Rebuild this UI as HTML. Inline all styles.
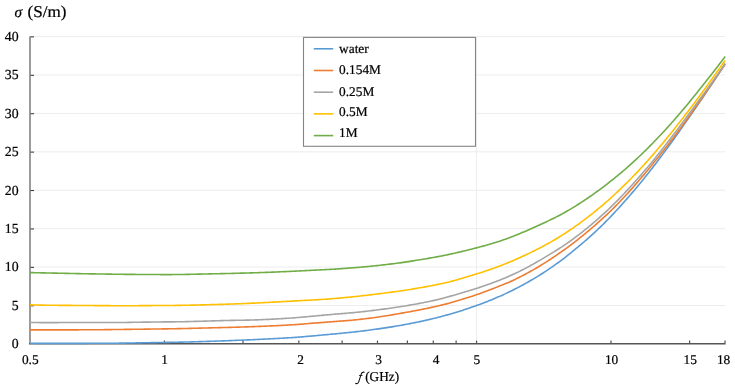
<!DOCTYPE html>
<html><head><meta charset="utf-8"><style>
html,body{margin:0;padding:0;background:#fff;width:735px;height:388px;overflow:hidden}
svg{display:block;will-change:transform}
text{text-rendering:geometricPrecision;stroke:#000;stroke-width:0.22px}
.t{font-family:"Liberation Serif",serif;font-size:13.33px;fill:#000}
.ti{font-family:"Liberation Serif",serif;font-size:16.5px;fill:#000}
.ty{font-family:"Liberation Serif",serif;font-size:13.8px;fill:#000}
.tx{font-family:"Liberation Serif",serif;font-size:13.6px;fill:#000}
</style></head><body>
<svg width="735" height="388" viewBox="0 0 735 388">
<line x1="31" y1="305.48" x2="725.3" y2="305.48" stroke="#EDEDED" stroke-width="1"/>
<line x1="31" y1="267.07" x2="725.3" y2="267.07" stroke="#EDEDED" stroke-width="1"/>
<line x1="31" y1="228.65" x2="725.3" y2="228.65" stroke="#EDEDED" stroke-width="1"/>
<line x1="31" y1="190.24" x2="725.3" y2="190.24" stroke="#EDEDED" stroke-width="1"/>
<line x1="31" y1="151.82" x2="725.3" y2="151.82" stroke="#EDEDED" stroke-width="1"/>
<line x1="31" y1="113.41" x2="725.3" y2="113.41" stroke="#EDEDED" stroke-width="1"/>
<line x1="31" y1="75.00" x2="725.3" y2="75.00" stroke="#EDEDED" stroke-width="1"/>
<line x1="31" y1="36.58" x2="725.3" y2="36.58" stroke="#EDEDED" stroke-width="1"/>
<line x1="476.56" y1="36.58" x2="476.56" y2="343" stroke="#EDEDED" stroke-width="1"/>
<line x1="30" y1="36.28" x2="30" y2="344.2" stroke="#8A8A8A" stroke-width="1.7"/>
<line x1="30.5" y1="305.78" x2="34" y2="305.78" stroke="#3A3A3A" stroke-width="1.05"/>
<line x1="30.5" y1="267.37" x2="34" y2="267.37" stroke="#3A3A3A" stroke-width="1.05"/>
<line x1="30.5" y1="228.95" x2="34" y2="228.95" stroke="#3A3A3A" stroke-width="1.05"/>
<line x1="30.5" y1="190.54" x2="34" y2="190.54" stroke="#3A3A3A" stroke-width="1.05"/>
<line x1="30.5" y1="152.12" x2="34" y2="152.12" stroke="#3A3A3A" stroke-width="1.05"/>
<line x1="30.5" y1="113.71" x2="34" y2="113.71" stroke="#3A3A3A" stroke-width="1.05"/>
<line x1="30.5" y1="75.30" x2="34" y2="75.30" stroke="#3A3A3A" stroke-width="1.05"/>
<line x1="30.5" y1="36.88" x2="34" y2="36.88" stroke="#3A3A3A" stroke-width="1.05"/>
<line x1="29.2" y1="343.7" x2="725.60" y2="343.7" stroke="#555" stroke-width="1.6"/>
<line x1="164.40" y1="343" x2="164.40" y2="340.6" stroke="#505050" stroke-width="1.2"/>
<line x1="243.04" y1="343" x2="243.04" y2="340.6" stroke="#505050" stroke-width="1.2"/>
<line x1="298.84" y1="343" x2="298.84" y2="340.6" stroke="#505050" stroke-width="1.2"/>
<line x1="342.12" y1="343" x2="342.12" y2="340.6" stroke="#505050" stroke-width="1.2"/>
<line x1="377.48" y1="343" x2="377.48" y2="340.6" stroke="#505050" stroke-width="1.2"/>
<line x1="407.38" y1="343" x2="407.38" y2="340.6" stroke="#505050" stroke-width="1.2"/>
<line x1="433.28" y1="343" x2="433.28" y2="340.6" stroke="#505050" stroke-width="1.2"/>
<line x1="456.12" y1="343" x2="456.12" y2="340.6" stroke="#505050" stroke-width="1.2"/>
<line x1="476.56" y1="343" x2="476.56" y2="340.6" stroke="#505050" stroke-width="1.2"/>
<line x1="611.00" y1="343" x2="611.00" y2="340.6" stroke="#505050" stroke-width="1.2"/>
<line x1="689.64" y1="343" x2="689.64" y2="340.6" stroke="#505050" stroke-width="1.2"/>
<line x1="725.00" y1="343" x2="725.00" y2="340.6" stroke="#505050" stroke-width="1.2"/>
<path d="M30.00,343.28 L31.66,343.29 L33.32,343.31 L34.98,343.33 L36.64,343.34 L38.30,343.36 L39.96,343.37 L41.61,343.38 L43.27,343.39 L44.93,343.40 L46.59,343.41 L48.25,343.42 L49.91,343.42 L51.57,343.42 L53.23,343.42 L54.89,343.42 L56.55,343.42 L58.21,343.41 L59.87,343.41 L61.52,343.40 L63.18,343.40 L64.84,343.39 L66.50,343.38 L68.16,343.38 L69.82,343.37 L71.48,343.37 L73.14,343.37 L74.80,343.36 L76.46,343.36 L78.12,343.35 L79.78,343.35 L81.43,343.35 L83.09,343.34 L84.75,343.34 L86.41,343.33 L88.07,343.33 L89.73,343.32 L91.39,343.32 L93.05,343.31 L94.71,343.30 L96.37,343.30 L98.03,343.29 L99.69,343.28 L101.35,343.28 L103.00,343.27 L104.66,343.26 L106.32,343.25 L107.98,343.25 L109.64,343.24 L111.30,343.23 L112.96,343.22 L114.62,343.21 L116.28,343.19 L117.94,343.18 L119.60,343.16 L121.26,343.14 L122.91,343.12 L124.57,343.10 L126.23,343.07 L127.89,343.05 L129.55,343.02 L131.21,343.00 L132.87,342.97 L134.53,342.95 L136.19,342.92 L137.85,342.89 L139.51,342.87 L141.17,342.84 L142.82,342.81 L144.48,342.79 L146.14,342.76 L147.80,342.73 L149.46,342.70 L151.12,342.67 L152.78,342.65 L154.44,342.62 L156.10,342.59 L157.76,342.56 L159.42,342.53 L161.08,342.50 L162.74,342.47 L164.39,342.44 L166.05,342.41 L167.71,342.38 L169.37,342.35 L171.03,342.32 L172.69,342.29 L174.35,342.26 L176.01,342.23 L177.67,342.20 L179.33,342.16 L180.99,342.13 L182.65,342.09 L184.30,342.06 L185.96,342.02 L187.62,341.98 L189.28,341.94 L190.94,341.89 L192.60,341.85 L194.26,341.80 L195.92,341.76 L197.58,341.71 L199.24,341.66 L200.90,341.61 L202.56,341.56 L204.21,341.51 L205.87,341.46 L207.53,341.41 L209.19,341.35 L210.85,341.30 L212.51,341.25 L214.17,341.19 L215.83,341.13 L217.49,341.07 L219.15,341.02 L220.81,340.96 L222.47,340.90 L224.13,340.83 L225.78,340.77 L227.44,340.71 L229.10,340.64 L230.76,340.58 L232.42,340.51 L234.08,340.45 L235.74,340.38 L237.40,340.31 L239.06,340.24 L240.72,340.18 L242.38,340.11 L244.04,340.04 L245.69,339.97 L247.35,339.90 L249.01,339.83 L250.67,339.75 L252.33,339.68 L253.99,339.60 L255.65,339.53 L257.31,339.45 L258.97,339.38 L260.63,339.30 L262.29,339.22 L263.95,339.14 L265.60,339.06 L267.26,338.98 L268.92,338.90 L270.58,338.82 L272.24,338.74 L273.90,338.65 L275.56,338.57 L277.22,338.48 L278.88,338.40 L280.54,338.31 L282.20,338.22 L283.86,338.12 L285.52,338.02 L287.17,337.92 L288.83,337.82 L290.49,337.71 L292.15,337.60 L293.81,337.48 L295.47,337.36 L297.13,337.24 L298.79,337.11 L300.45,336.98 L302.11,336.84 L303.77,336.70 L305.43,336.56 L307.08,336.42 L308.74,336.28 L310.40,336.13 L312.06,335.98 L313.72,335.83 L315.38,335.68 L317.04,335.52 L318.70,335.37 L320.36,335.21 L322.02,335.06 L323.68,334.90 L325.34,334.75 L326.99,334.59 L328.65,334.44 L330.31,334.28 L331.97,334.13 L333.63,333.98 L335.29,333.83 L336.95,333.68 L338.61,333.53 L340.27,333.37 L341.93,333.22 L343.59,333.06 L345.25,332.90 L346.91,332.73 L348.56,332.56 L350.22,332.39 L351.88,332.21 L353.54,332.03 L355.20,331.84 L356.86,331.65 L358.52,331.46 L360.18,331.26 L361.84,331.06 L363.50,330.86 L365.16,330.65 L366.82,330.44 L368.47,330.23 L370.13,330.01 L371.79,329.79 L373.45,329.56 L375.11,329.33 L376.77,329.10 L378.43,328.86 L380.09,328.62 L381.75,328.38 L383.41,328.13 L385.07,327.88 L386.73,327.63 L388.38,327.38 L390.04,327.12 L391.70,326.85 L393.36,326.59 L395.02,326.31 L396.68,326.04 L398.34,325.75 L400.00,325.47 L401.66,325.17 L403.32,324.88 L404.98,324.57 L406.64,324.27 L408.29,323.95 L409.95,323.63 L411.61,323.31 L413.27,322.98 L414.93,322.65 L416.59,322.31 L418.25,321.96 L419.91,321.61 L421.57,321.25 L423.23,320.89 L424.89,320.52 L426.55,320.14 L428.21,319.76 L429.86,319.37 L431.52,318.98 L433.18,318.58 L434.84,318.17 L436.50,317.75 L438.16,317.33 L439.82,316.90 L441.48,316.47 L443.14,316.03 L444.80,315.58 L446.46,315.13 L448.12,314.66 L449.77,314.19 L451.43,313.71 L453.09,313.23 L454.75,312.73 L456.41,312.23 L458.07,311.72 L459.73,311.20 L461.39,310.67 L463.05,310.14 L464.71,309.60 L466.37,309.05 L468.03,308.49 L469.68,307.93 L471.34,307.36 L473.00,306.78 L474.66,306.20 L476.32,305.61 L477.98,305.01 L479.64,304.40 L481.30,303.79 L482.96,303.16 L484.62,302.53 L486.28,301.89 L487.94,301.23 L489.60,300.57 L491.25,299.90 L492.91,299.22 L494.57,298.53 L496.23,297.82 L497.89,297.11 L499.55,296.38 L501.21,295.65 L502.87,294.90 L504.53,294.14 L506.19,293.37 L507.85,292.59 L509.51,291.80 L511.16,290.99 L512.82,290.17 L514.48,289.34 L516.14,288.49 L517.80,287.63 L519.46,286.76 L521.12,285.88 L522.78,284.98 L524.44,284.07 L526.10,283.15 L527.76,282.22 L529.42,281.27 L531.07,280.31 L532.73,279.34 L534.39,278.35 L536.05,277.35 L537.71,276.33 L539.37,275.31 L541.03,274.26 L542.69,273.21 L544.35,272.14 L546.01,271.05 L547.67,269.95 L549.33,268.83 L550.99,267.70 L552.64,266.56 L554.30,265.39 L555.96,264.21 L557.62,263.02 L559.28,261.80 L560.94,260.57 L562.60,259.31 L564.26,258.04 L565.92,256.76 L567.58,255.45 L569.24,254.13 L570.90,252.80 L572.55,251.46 L574.21,250.10 L575.87,248.74 L577.53,247.36 L579.19,245.98 L580.85,244.58 L582.51,243.17 L584.17,241.74 L585.83,240.30 L587.49,238.84 L589.15,237.37 L590.81,235.88 L592.46,234.38 L594.12,232.86 L595.78,231.32 L597.44,229.77 L599.10,228.19 L600.76,226.59 L602.42,224.98 L604.08,223.34 L605.74,221.69 L607.40,220.01 L609.06,218.31 L610.72,216.59 L612.38,214.85 L614.03,213.09 L615.69,211.31 L617.35,209.51 L619.01,207.70 L620.67,205.86 L622.33,204.01 L623.99,202.15 L625.65,200.27 L627.31,198.37 L628.97,196.47 L630.63,194.54 L632.29,192.61 L633.94,190.66 L635.60,188.69 L637.26,186.72 L638.92,184.72 L640.58,182.72 L642.24,180.70 L643.90,178.66 L645.56,176.60 L647.22,174.53 L648.88,172.45 L650.54,170.34 L652.20,168.22 L653.85,166.08 L655.51,163.92 L657.17,161.74 L658.83,159.55 L660.49,157.34 L662.15,155.12 L663.81,152.88 L665.47,150.62 L667.13,148.36 L668.79,146.08 L670.45,143.79 L672.11,141.49 L673.77,139.19 L675.42,136.87 L677.08,134.54 L678.74,132.21 L680.40,129.86 L682.06,127.51 L683.72,125.15 L685.38,122.78 L687.04,120.40 L688.70,118.02 L690.36,115.62 L692.02,113.22 L693.68,110.81 L695.33,108.40 L696.99,105.98 L698.65,103.56 L700.31,101.13 L701.97,98.70 L703.63,96.26 L705.29,93.81 L706.95,91.36 L708.61,88.90 L710.27,86.43 L711.93,83.95 L713.59,81.46 L715.24,78.97 L716.90,76.48 L718.56,73.98 L720.22,71.48 L721.88,68.97 L723.54,66.46 L725.20,63.95" fill="none" stroke="#5B9BD5" stroke-width="1.6" stroke-linejoin="round" stroke-linecap="butt"/>
<path d="M30.00,329.90 L31.66,329.90 L33.32,329.90 L34.98,329.90 L36.64,329.90 L38.30,329.89 L39.96,329.89 L41.61,329.89 L43.27,329.89 L44.93,329.89 L46.59,329.88 L48.25,329.88 L49.91,329.88 L51.57,329.88 L53.23,329.87 L54.89,329.87 L56.55,329.87 L58.21,329.87 L59.87,329.87 L61.52,329.87 L63.18,329.87 L64.84,329.86 L66.50,329.86 L68.16,329.86 L69.82,329.86 L71.48,329.85 L73.14,329.85 L74.80,329.84 L76.46,329.84 L78.12,329.83 L79.78,329.82 L81.43,329.82 L83.09,329.81 L84.75,329.80 L86.41,329.79 L88.07,329.78 L89.73,329.77 L91.39,329.76 L93.05,329.75 L94.71,329.74 L96.37,329.73 L98.03,329.72 L99.69,329.70 L101.35,329.69 L103.00,329.68 L104.66,329.66 L106.32,329.64 L107.98,329.63 L109.64,329.61 L111.30,329.59 L112.96,329.57 L114.62,329.55 L116.28,329.53 L117.94,329.51 L119.60,329.48 L121.26,329.46 L122.91,329.44 L124.57,329.42 L126.23,329.39 L127.89,329.37 L129.55,329.35 L131.21,329.33 L132.87,329.31 L134.53,329.29 L136.19,329.27 L137.85,329.25 L139.51,329.23 L141.17,329.21 L142.82,329.18 L144.48,329.16 L146.14,329.14 L147.80,329.12 L149.46,329.10 L151.12,329.07 L152.78,329.05 L154.44,329.03 L156.10,329.01 L157.76,328.98 L159.42,328.96 L161.08,328.94 L162.74,328.91 L164.39,328.89 L166.05,328.86 L167.71,328.84 L169.37,328.81 L171.03,328.78 L172.69,328.76 L174.35,328.73 L176.01,328.69 L177.67,328.66 L179.33,328.63 L180.99,328.59 L182.65,328.55 L184.30,328.51 L185.96,328.47 L187.62,328.43 L189.28,328.39 L190.94,328.35 L192.60,328.31 L194.26,328.27 L195.92,328.23 L197.58,328.19 L199.24,328.15 L200.90,328.11 L202.56,328.07 L204.21,328.03 L205.87,327.99 L207.53,327.95 L209.19,327.90 L210.85,327.86 L212.51,327.82 L214.17,327.78 L215.83,327.73 L217.49,327.69 L219.15,327.65 L220.81,327.60 L222.47,327.56 L224.13,327.51 L225.78,327.47 L227.44,327.43 L229.10,327.38 L230.76,327.34 L232.42,327.29 L234.08,327.25 L235.74,327.20 L237.40,327.16 L239.06,327.11 L240.72,327.06 L242.38,327.01 L244.04,326.96 L245.69,326.90 L247.35,326.84 L249.01,326.78 L250.67,326.72 L252.33,326.66 L253.99,326.60 L255.65,326.54 L257.31,326.47 L258.97,326.41 L260.63,326.34 L262.29,326.27 L263.95,326.20 L265.60,326.14 L267.26,326.07 L268.92,326.00 L270.58,325.92 L272.24,325.85 L273.90,325.78 L275.56,325.70 L277.22,325.63 L278.88,325.55 L280.54,325.47 L282.20,325.38 L283.86,325.30 L285.52,325.21 L287.17,325.11 L288.83,325.01 L290.49,324.91 L292.15,324.80 L293.81,324.69 L295.47,324.58 L297.13,324.46 L298.79,324.34 L300.45,324.21 L302.11,324.08 L303.77,323.95 L305.43,323.82 L307.08,323.69 L308.74,323.56 L310.40,323.42 L312.06,323.29 L313.72,323.16 L315.38,323.02 L317.04,322.89 L318.70,322.76 L320.36,322.63 L322.02,322.50 L323.68,322.37 L325.34,322.24 L326.99,322.12 L328.65,321.99 L330.31,321.87 L331.97,321.76 L333.63,321.64 L335.29,321.52 L336.95,321.41 L338.61,321.29 L340.27,321.17 L341.93,321.05 L343.59,320.92 L345.25,320.79 L346.91,320.65 L348.56,320.50 L350.22,320.35 L351.88,320.19 L353.54,320.03 L355.20,319.87 L356.86,319.69 L358.52,319.52 L360.18,319.34 L361.84,319.15 L363.50,318.96 L365.16,318.77 L366.82,318.57 L368.47,318.37 L370.13,318.16 L371.79,317.95 L373.45,317.74 L375.11,317.52 L376.77,317.29 L378.43,317.06 L380.09,316.82 L381.75,316.57 L383.41,316.31 L385.07,316.04 L386.73,315.76 L388.38,315.48 L390.04,315.18 L391.70,314.89 L393.36,314.60 L395.02,314.31 L396.68,314.02 L398.34,313.73 L400.00,313.45 L401.66,313.16 L403.32,312.87 L404.98,312.58 L406.64,312.29 L408.29,311.99 L409.95,311.69 L411.61,311.39 L413.27,311.08 L414.93,310.76 L416.59,310.44 L418.25,310.12 L419.91,309.80 L421.57,309.46 L423.23,309.13 L424.89,308.79 L426.55,308.45 L428.21,308.10 L429.86,307.75 L431.52,307.39 L433.18,307.03 L434.84,306.66 L436.50,306.29 L438.16,305.91 L439.82,305.52 L441.48,305.13 L443.14,304.72 L444.80,304.30 L446.46,303.87 L448.12,303.43 L449.77,302.98 L451.43,302.52 L453.09,302.05 L454.75,301.57 L456.41,301.09 L458.07,300.60 L459.73,300.10 L461.39,299.60 L463.05,299.10 L464.71,298.58 L466.37,298.06 L468.03,297.54 L469.68,297.01 L471.34,296.46 L473.00,295.92 L474.66,295.36 L476.32,294.80 L477.98,294.22 L479.64,293.64 L481.30,293.05 L482.96,292.45 L484.62,291.85 L486.28,291.23 L487.94,290.61 L489.60,289.98 L491.25,289.34 L492.91,288.69 L494.57,288.03 L496.23,287.37 L497.89,286.71 L499.55,286.04 L501.21,285.37 L502.87,284.70 L504.53,284.03 L506.19,283.34 L507.85,282.65 L509.51,281.94 L511.16,281.20 L512.82,280.45 L514.48,279.67 L516.14,278.88 L517.80,278.07 L519.46,277.24 L521.12,276.40 L522.78,275.54 L524.44,274.67 L526.10,273.78 L527.76,272.88 L529.42,271.97 L531.07,271.04 L532.73,270.10 L534.39,269.15 L536.05,268.19 L537.71,267.21 L539.37,266.22 L541.03,265.21 L542.69,264.19 L544.35,263.16 L546.01,262.12 L547.67,261.06 L549.33,259.98 L550.99,258.89 L552.64,257.79 L554.30,256.68 L555.96,255.55 L557.62,254.41 L559.28,253.26 L560.94,252.10 L562.60,250.93 L564.26,249.75 L565.92,248.55 L567.58,247.34 L569.24,246.12 L570.90,244.88 L572.55,243.63 L574.21,242.37 L575.87,241.09 L577.53,239.79 L579.19,238.48 L580.85,237.16 L582.51,235.82 L584.17,234.47 L585.83,233.10 L587.49,231.72 L589.15,230.32 L590.81,228.92 L592.46,227.49 L594.12,226.06 L595.78,224.61 L597.44,223.14 L599.10,221.67 L600.76,220.18 L602.42,218.67 L604.08,217.15 L605.74,215.61 L607.40,214.05 L609.06,212.47 L610.72,210.87 L612.38,209.24 L614.03,207.60 L615.69,205.93 L617.35,204.24 L619.01,202.53 L620.67,200.80 L622.33,199.05 L623.99,197.28 L625.65,195.48 L627.31,193.67 L628.97,191.84 L630.63,190.00 L632.29,188.13 L633.94,186.25 L635.60,184.36 L637.26,182.45 L638.92,180.52 L640.58,178.58 L642.24,176.63 L643.90,174.66 L645.56,172.68 L647.22,170.69 L648.88,168.68 L650.54,166.66 L652.20,164.64 L653.85,162.60 L655.51,160.55 L657.17,158.49 L658.83,156.41 L660.49,154.33 L662.15,152.24 L663.81,150.14 L665.47,148.02 L667.13,145.89 L668.79,143.75 L670.45,141.60 L672.11,139.43 L673.77,137.24 L675.42,135.04 L677.08,132.83 L678.74,130.60 L680.40,128.35 L682.06,126.08 L683.72,123.81 L685.38,121.51 L687.04,119.20 L688.70,116.87 L690.36,114.53 L692.02,112.18 L693.68,109.82 L695.33,107.44 L696.99,105.06 L698.65,102.67 L700.31,100.27 L701.97,97.87 L703.63,95.47 L705.29,93.06 L706.95,90.65 L708.61,88.23 L710.27,85.81 L711.93,83.39 L713.59,80.96 L715.24,78.53 L716.90,76.09 L718.56,73.64 L720.22,71.19 L721.88,68.73 L723.54,66.27 L725.20,63.80" fill="none" stroke="#ED7D31" stroke-width="1.6" stroke-linejoin="round" stroke-linecap="butt"/>
<path d="M30.00,322.42 L31.66,322.45 L33.32,322.48 L34.98,322.51 L36.64,322.53 L38.30,322.56 L39.96,322.58 L41.61,322.60 L43.27,322.61 L44.93,322.63 L46.59,322.64 L48.25,322.64 L49.91,322.64 L51.57,322.64 L53.23,322.63 L54.89,322.62 L56.55,322.61 L58.21,322.59 L59.87,322.57 L61.52,322.54 L63.18,322.53 L64.84,322.51 L66.50,322.49 L68.16,322.48 L69.82,322.48 L71.48,322.47 L73.14,322.47 L74.80,322.47 L76.46,322.47 L78.12,322.47 L79.78,322.47 L81.43,322.47 L83.09,322.47 L84.75,322.48 L86.41,322.48 L88.07,322.48 L89.73,322.49 L91.39,322.49 L93.05,322.49 L94.71,322.50 L96.37,322.50 L98.03,322.51 L99.69,322.51 L101.35,322.52 L103.00,322.53 L104.66,322.53 L106.32,322.54 L107.98,322.55 L109.64,322.56 L111.30,322.56 L112.96,322.56 L114.62,322.56 L116.28,322.56 L117.94,322.55 L119.60,322.53 L121.26,322.51 L122.91,322.49 L124.57,322.46 L126.23,322.43 L127.89,322.40 L129.55,322.38 L131.21,322.35 L132.87,322.32 L134.53,322.29 L136.19,322.27 L137.85,322.24 L139.51,322.22 L141.17,322.19 L142.82,322.17 L144.48,322.14 L146.14,322.12 L147.80,322.10 L149.46,322.08 L151.12,322.06 L152.78,322.04 L154.44,322.02 L156.10,322.00 L157.76,321.98 L159.42,321.96 L161.08,321.94 L162.74,321.92 L164.39,321.91 L166.05,321.90 L167.71,321.88 L169.37,321.87 L171.03,321.86 L172.69,321.85 L174.35,321.83 L176.01,321.82 L177.67,321.80 L179.33,321.78 L180.99,321.75 L182.65,321.72 L184.30,321.68 L185.96,321.64 L187.62,321.60 L189.28,321.56 L190.94,321.51 L192.60,321.47 L194.26,321.42 L195.92,321.38 L197.58,321.33 L199.24,321.29 L200.90,321.24 L202.56,321.20 L204.21,321.15 L205.87,321.10 L207.53,321.05 L209.19,321.01 L210.85,320.96 L212.51,320.91 L214.17,320.86 L215.83,320.81 L217.49,320.76 L219.15,320.71 L220.81,320.66 L222.47,320.62 L224.13,320.57 L225.78,320.52 L227.44,320.48 L229.10,320.43 L230.76,320.40 L232.42,320.36 L234.08,320.33 L235.74,320.30 L237.40,320.28 L239.06,320.25 L240.72,320.23 L242.38,320.21 L244.04,320.19 L245.69,320.16 L247.35,320.13 L249.01,320.09 L250.67,320.05 L252.33,320.00 L253.99,319.95 L255.65,319.89 L257.31,319.83 L258.97,319.77 L260.63,319.70 L262.29,319.63 L263.95,319.56 L265.60,319.49 L267.26,319.41 L268.92,319.33 L270.58,319.25 L272.24,319.17 L273.90,319.08 L275.56,319.00 L277.22,318.91 L278.88,318.81 L280.54,318.72 L282.20,318.62 L283.86,318.52 L285.52,318.41 L287.17,318.30 L288.83,318.19 L290.49,318.07 L292.15,317.95 L293.81,317.83 L295.47,317.70 L297.13,317.57 L298.79,317.43 L300.45,317.29 L302.11,317.15 L303.77,317.01 L305.43,316.86 L307.08,316.71 L308.74,316.56 L310.40,316.41 L312.06,316.25 L313.72,316.10 L315.38,315.94 L317.04,315.79 L318.70,315.63 L320.36,315.48 L322.02,315.33 L323.68,315.17 L325.34,315.02 L326.99,314.88 L328.65,314.73 L330.31,314.59 L331.97,314.44 L333.63,314.30 L335.29,314.17 L336.95,314.03 L338.61,313.89 L340.27,313.76 L341.93,313.62 L343.59,313.48 L345.25,313.35 L346.91,313.20 L348.56,313.06 L350.22,312.91 L351.88,312.76 L353.54,312.60 L355.20,312.44 L356.86,312.28 L358.52,312.11 L360.18,311.94 L361.84,311.76 L363.50,311.58 L365.16,311.39 L366.82,311.20 L368.47,311.01 L370.13,310.81 L371.79,310.61 L373.45,310.41 L375.11,310.20 L376.77,309.99 L378.43,309.78 L380.09,309.56 L381.75,309.34 L383.41,309.12 L385.07,308.90 L386.73,308.67 L388.38,308.44 L390.04,308.20 L391.70,307.97 L393.36,307.73 L395.02,307.48 L396.68,307.24 L398.34,306.99 L400.00,306.73 L401.66,306.47 L403.32,306.21 L404.98,305.94 L406.64,305.67 L408.29,305.39 L409.95,305.11 L411.61,304.83 L413.27,304.53 L414.93,304.24 L416.59,303.93 L418.25,303.63 L419.91,303.31 L421.57,303.00 L423.23,302.67 L424.89,302.34 L426.55,302.01 L428.21,301.67 L429.86,301.32 L431.52,300.96 L433.18,300.60 L434.84,300.23 L436.50,299.85 L438.16,299.45 L439.82,299.05 L441.48,298.63 L443.14,298.20 L444.80,297.75 L446.46,297.30 L448.12,296.83 L449.77,296.37 L451.43,295.89 L453.09,295.42 L454.75,294.94 L456.41,294.47 L458.07,293.99 L459.73,293.52 L461.39,293.04 L463.05,292.55 L464.71,292.06 L466.37,291.57 L468.03,291.07 L469.68,290.57 L471.34,290.05 L473.00,289.54 L474.66,289.01 L476.32,288.47 L477.98,287.93 L479.64,287.38 L481.30,286.82 L482.96,286.26 L484.62,285.68 L486.28,285.10 L487.94,284.51 L489.60,283.91 L491.25,283.30 L492.91,282.68 L494.57,282.06 L496.23,281.43 L497.89,280.79 L499.55,280.14 L501.21,279.49 L502.87,278.83 L504.53,278.16 L506.19,277.47 L507.85,276.77 L509.51,276.05 L511.16,275.32 L512.82,274.56 L514.48,273.79 L516.14,273.00 L517.80,272.20 L519.46,271.38 L521.12,270.55 L522.78,269.71 L524.44,268.85 L526.10,267.98 L527.76,267.10 L529.42,266.20 L531.07,265.30 L532.73,264.38 L534.39,263.44 L536.05,262.50 L537.71,261.54 L539.37,260.58 L541.03,259.60 L542.69,258.62 L544.35,257.62 L546.01,256.63 L547.67,255.63 L549.33,254.62 L550.99,253.61 L552.64,252.60 L554.30,251.58 L555.96,250.55 L557.62,249.52 L559.28,248.46 L560.94,247.39 L562.60,246.30 L564.26,245.19 L565.92,244.06 L567.58,242.91 L569.24,241.74 L570.90,240.56 L572.55,239.35 L574.21,238.13 L575.87,236.90 L577.53,235.64 L579.19,234.38 L580.85,233.09 L582.51,231.79 L584.17,230.48 L585.83,229.15 L587.49,227.80 L589.15,226.44 L590.81,225.07 L592.46,223.67 L594.12,222.26 L595.78,220.84 L597.44,219.39 L599.10,217.93 L600.76,216.45 L602.42,214.96 L604.08,213.44 L605.74,211.90 L607.40,210.34 L609.06,208.77 L610.72,207.17 L612.38,205.55 L614.03,203.91 L615.69,202.25 L617.35,200.57 L619.01,198.88 L620.67,197.17 L622.33,195.43 L623.99,193.69 L625.65,191.92 L627.31,190.14 L628.97,188.35 L630.63,186.54 L632.29,184.71 L633.94,182.88 L635.60,181.02 L637.26,179.16 L638.92,177.27 L640.58,175.38 L642.24,173.47 L643.90,171.54 L645.56,169.60 L647.22,167.65 L648.88,165.68 L650.54,163.69 L652.20,161.69 L653.85,159.67 L655.51,157.64 L657.17,155.59 L658.83,153.52 L660.49,151.44 L662.15,149.35 L663.81,147.24 L665.47,145.12 L667.13,142.99 L668.79,140.84 L670.45,138.68 L672.11,136.51 L673.77,134.33 L675.42,132.13 L677.08,129.93 L678.74,127.72 L680.40,125.49 L682.06,123.26 L683.72,121.02 L685.38,118.78 L687.04,116.53 L688.70,114.27 L690.36,112.02 L692.02,109.76 L693.68,107.50 L695.33,105.24 L696.99,102.98 L698.65,100.72 L700.31,98.45 L701.97,96.19 L703.63,93.92 L705.29,91.64 L706.95,89.36 L708.61,87.07 L710.27,84.76 L711.93,82.45 L713.59,80.13 L715.24,77.79 L716.90,75.45 L718.56,73.09 L720.22,70.73 L721.88,68.35 L723.54,65.97 L725.20,63.59" fill="none" stroke="#A5A5A5" stroke-width="1.6" stroke-linejoin="round" stroke-linecap="butt"/>
<path d="M30.00,304.88 L31.66,304.92 L33.32,304.96 L34.98,304.99 L36.64,305.02 L38.30,305.06 L39.96,305.09 L41.61,305.12 L43.27,305.15 L44.93,305.18 L46.59,305.20 L48.25,305.23 L49.91,305.25 L51.57,305.27 L53.23,305.29 L54.89,305.31 L56.55,305.32 L58.21,305.34 L59.87,305.35 L61.52,305.36 L63.18,305.37 L64.84,305.37 L66.50,305.38 L68.16,305.40 L69.82,305.41 L71.48,305.42 L73.14,305.43 L74.80,305.44 L76.46,305.45 L78.12,305.47 L79.78,305.48 L81.43,305.49 L83.09,305.50 L84.75,305.52 L86.41,305.53 L88.07,305.54 L89.73,305.55 L91.39,305.56 L93.05,305.57 L94.71,305.58 L96.37,305.59 L98.03,305.60 L99.69,305.61 L101.35,305.62 L103.00,305.63 L104.66,305.64 L106.32,305.65 L107.98,305.66 L109.64,305.67 L111.30,305.68 L112.96,305.70 L114.62,305.70 L116.28,305.71 L117.94,305.72 L119.60,305.73 L121.26,305.73 L122.91,305.73 L124.57,305.73 L126.23,305.73 L127.89,305.72 L129.55,305.72 L131.21,305.71 L132.87,305.70 L134.53,305.70 L136.19,305.69 L137.85,305.68 L139.51,305.67 L141.17,305.66 L142.82,305.65 L144.48,305.63 L146.14,305.62 L147.80,305.61 L149.46,305.60 L151.12,305.58 L152.78,305.57 L154.44,305.56 L156.10,305.54 L157.76,305.53 L159.42,305.52 L161.08,305.51 L162.74,305.50 L164.39,305.49 L166.05,305.48 L167.71,305.47 L169.37,305.47 L171.03,305.46 L172.69,305.44 L174.35,305.43 L176.01,305.41 L177.67,305.39 L179.33,305.37 L180.99,305.35 L182.65,305.32 L184.30,305.29 L185.96,305.26 L187.62,305.23 L189.28,305.19 L190.94,305.16 L192.60,305.12 L194.26,305.08 L195.92,305.04 L197.58,305.00 L199.24,304.96 L200.90,304.92 L202.56,304.87 L204.21,304.83 L205.87,304.79 L207.53,304.74 L209.19,304.70 L210.85,304.65 L212.51,304.61 L214.17,304.56 L215.83,304.52 L217.49,304.47 L219.15,304.42 L220.81,304.37 L222.47,304.33 L224.13,304.28 L225.78,304.22 L227.44,304.17 L229.10,304.12 L230.76,304.06 L232.42,304.00 L234.08,303.94 L235.74,303.88 L237.40,303.82 L239.06,303.75 L240.72,303.69 L242.38,303.62 L244.04,303.55 L245.69,303.48 L247.35,303.40 L249.01,303.33 L250.67,303.25 L252.33,303.17 L253.99,303.09 L255.65,303.01 L257.31,302.93 L258.97,302.85 L260.63,302.76 L262.29,302.68 L263.95,302.60 L265.60,302.51 L267.26,302.43 L268.92,302.34 L270.58,302.26 L272.24,302.17 L273.90,302.09 L275.56,302.00 L277.22,301.91 L278.88,301.83 L280.54,301.74 L282.20,301.65 L283.86,301.56 L285.52,301.47 L287.17,301.38 L288.83,301.29 L290.49,301.19 L292.15,301.10 L293.81,301.01 L295.47,300.92 L297.13,300.83 L298.79,300.74 L300.45,300.65 L302.11,300.56 L303.77,300.48 L305.43,300.39 L307.08,300.30 L308.74,300.22 L310.40,300.13 L312.06,300.04 L313.72,299.95 L315.38,299.85 L317.04,299.75 L318.70,299.65 L320.36,299.54 L322.02,299.43 L323.68,299.32 L325.34,299.20 L326.99,299.08 L328.65,298.96 L330.31,298.83 L331.97,298.70 L333.63,298.57 L335.29,298.44 L336.95,298.30 L338.61,298.16 L340.27,298.01 L341.93,297.87 L343.59,297.72 L345.25,297.57 L346.91,297.41 L348.56,297.25 L350.22,297.09 L351.88,296.92 L353.54,296.75 L355.20,296.57 L356.86,296.38 L358.52,296.20 L360.18,296.00 L361.84,295.81 L363.50,295.62 L365.16,295.42 L366.82,295.23 L368.47,295.03 L370.13,294.84 L371.79,294.64 L373.45,294.45 L375.11,294.25 L376.77,294.05 L378.43,293.84 L380.09,293.64 L381.75,293.43 L383.41,293.22 L385.07,293.00 L386.73,292.79 L388.38,292.57 L390.04,292.35 L391.70,292.12 L393.36,291.90 L395.02,291.67 L396.68,291.43 L398.34,291.20 L400.00,290.96 L401.66,290.72 L403.32,290.47 L404.98,290.22 L406.64,289.97 L408.29,289.71 L409.95,289.45 L411.61,289.18 L413.27,288.91 L414.93,288.63 L416.59,288.35 L418.25,288.07 L419.91,287.78 L421.57,287.49 L423.23,287.19 L424.89,286.90 L426.55,286.60 L428.21,286.29 L429.86,285.99 L431.52,285.68 L433.18,285.37 L434.84,285.05 L436.50,284.72 L438.16,284.39 L439.82,284.05 L441.48,283.69 L443.14,283.33 L444.80,282.96 L446.46,282.57 L448.12,282.16 L449.77,281.75 L451.43,281.32 L453.09,280.88 L454.75,280.43 L456.41,279.96 L458.07,279.49 L459.73,279.01 L461.39,278.53 L463.05,278.04 L464.71,277.55 L466.37,277.05 L468.03,276.55 L469.68,276.05 L471.34,275.55 L473.00,275.05 L474.66,274.54 L476.32,274.02 L477.98,273.50 L479.64,272.97 L481.30,272.44 L482.96,271.90 L484.62,271.36 L486.28,270.81 L487.94,270.24 L489.60,269.68 L491.25,269.10 L492.91,268.51 L494.57,267.91 L496.23,267.31 L497.89,266.69 L499.55,266.07 L501.21,265.43 L502.87,264.79 L504.53,264.13 L506.19,263.46 L507.85,262.79 L509.51,262.10 L511.16,261.40 L512.82,260.69 L514.48,259.98 L516.14,259.25 L517.80,258.51 L519.46,257.76 L521.12,257.01 L522.78,256.25 L524.44,255.48 L526.10,254.71 L527.76,253.93 L529.42,253.14 L531.07,252.35 L532.73,251.54 L534.39,250.72 L536.05,249.89 L537.71,249.06 L539.37,248.20 L541.03,247.34 L542.69,246.46 L544.35,245.58 L546.01,244.67 L547.67,243.76 L549.33,242.83 L550.99,241.89 L552.64,240.93 L554.30,239.96 L555.96,238.97 L557.62,237.97 L559.28,236.96 L560.94,235.92 L562.60,234.88 L564.26,233.82 L565.92,232.74 L567.58,231.65 L569.24,230.54 L570.90,229.42 L572.55,228.29 L574.21,227.14 L575.87,225.97 L577.53,224.80 L579.19,223.60 L580.85,222.39 L582.51,221.17 L584.17,219.94 L585.83,218.68 L587.49,217.42 L589.15,216.14 L590.81,214.84 L592.46,213.53 L594.12,212.20 L595.78,210.85 L597.44,209.49 L599.10,208.12 L600.76,206.73 L602.42,205.32 L604.08,203.90 L605.74,202.46 L607.40,201.00 L609.06,199.53 L610.72,198.04 L612.38,196.53 L614.03,195.01 L615.69,193.48 L617.35,191.93 L619.01,190.36 L620.67,188.78 L622.33,187.18 L623.99,185.56 L625.65,183.94 L627.31,182.29 L628.97,180.63 L630.63,178.96 L632.29,177.27 L633.94,175.56 L635.60,173.83 L637.26,172.09 L638.92,170.33 L640.58,168.56 L642.24,166.76 L643.90,164.95 L645.56,163.12 L647.22,161.27 L648.88,159.40 L650.54,157.52 L652.20,155.62 L653.85,153.70 L655.51,151.76 L657.17,149.82 L658.83,147.85 L660.49,145.88 L662.15,143.89 L663.81,141.89 L665.47,139.88 L667.13,137.85 L668.79,135.82 L670.45,133.77 L672.11,131.72 L673.77,129.65 L675.42,127.57 L677.08,125.47 L678.74,123.37 L680.40,121.25 L682.06,119.13 L683.72,116.99 L685.38,114.84 L687.04,112.68 L688.70,110.50 L690.36,108.32 L692.02,106.12 L693.68,103.92 L695.33,101.70 L696.99,99.47 L698.65,97.24 L700.31,94.99 L701.97,92.74 L703.63,90.48 L705.29,88.20 L706.95,85.92 L708.61,83.64 L710.27,81.34 L711.93,79.04 L713.59,76.73 L715.24,74.41 L716.90,72.08 L718.56,69.75 L720.22,67.41 L721.88,65.06 L723.54,62.71 L725.20,60.35" fill="none" stroke="#FFC000" stroke-width="1.6" stroke-linejoin="round" stroke-linecap="butt"/>
<path d="M30.00,272.58 L31.66,272.62 L33.32,272.66 L34.98,272.70 L36.64,272.74 L38.30,272.77 L39.96,272.81 L41.61,272.84 L43.27,272.88 L44.93,272.91 L46.59,272.95 L48.25,272.98 L49.91,273.02 L51.57,273.05 L53.23,273.09 L54.89,273.13 L56.55,273.16 L58.21,273.20 L59.87,273.24 L61.52,273.27 L63.18,273.31 L64.84,273.35 L66.50,273.38 L68.16,273.42 L69.82,273.45 L71.48,273.49 L73.14,273.52 L74.80,273.56 L76.46,273.59 L78.12,273.62 L79.78,273.66 L81.43,273.69 L83.09,273.72 L84.75,273.75 L86.41,273.78 L88.07,273.81 L89.73,273.84 L91.39,273.86 L93.05,273.89 L94.71,273.92 L96.37,273.94 L98.03,273.97 L99.69,274.00 L101.35,274.02 L103.00,274.05 L104.66,274.07 L106.32,274.09 L107.98,274.12 L109.64,274.14 L111.30,274.16 L112.96,274.19 L114.62,274.21 L116.28,274.23 L117.94,274.25 L119.60,274.27 L121.26,274.29 L122.91,274.31 L124.57,274.33 L126.23,274.35 L127.89,274.36 L129.55,274.38 L131.21,274.39 L132.87,274.41 L134.53,274.42 L136.19,274.43 L137.85,274.44 L139.51,274.46 L141.17,274.47 L142.82,274.48 L144.48,274.49 L146.14,274.50 L147.80,274.51 L149.46,274.52 L151.12,274.53 L152.78,274.54 L154.44,274.55 L156.10,274.56 L157.76,274.57 L159.42,274.57 L161.08,274.58 L162.74,274.58 L164.39,274.59 L166.05,274.59 L167.71,274.59 L169.37,274.58 L171.03,274.58 L172.69,274.57 L174.35,274.56 L176.01,274.55 L177.67,274.53 L179.33,274.52 L180.99,274.50 L182.65,274.47 L184.30,274.45 L185.96,274.42 L187.62,274.39 L189.28,274.36 L190.94,274.32 L192.60,274.29 L194.26,274.25 L195.92,274.21 L197.58,274.17 L199.24,274.13 L200.90,274.09 L202.56,274.05 L204.21,274.01 L205.87,273.97 L207.53,273.93 L209.19,273.89 L210.85,273.86 L212.51,273.82 L214.17,273.78 L215.83,273.75 L217.49,273.72 L219.15,273.68 L220.81,273.65 L222.47,273.61 L224.13,273.58 L225.78,273.54 L227.44,273.50 L229.10,273.47 L230.76,273.43 L232.42,273.39 L234.08,273.35 L235.74,273.30 L237.40,273.26 L239.06,273.22 L240.72,273.17 L242.38,273.12 L244.04,273.08 L245.69,273.03 L247.35,272.98 L249.01,272.93 L250.67,272.88 L252.33,272.83 L253.99,272.78 L255.65,272.73 L257.31,272.68 L258.97,272.62 L260.63,272.57 L262.29,272.51 L263.95,272.46 L265.60,272.40 L267.26,272.34 L268.92,272.28 L270.58,272.21 L272.24,272.15 L273.90,272.08 L275.56,272.01 L277.22,271.95 L278.88,271.88 L280.54,271.80 L282.20,271.73 L283.86,271.66 L285.52,271.58 L287.17,271.51 L288.83,271.43 L290.49,271.35 L292.15,271.28 L293.81,271.20 L295.47,271.12 L297.13,271.04 L298.79,270.96 L300.45,270.88 L302.11,270.80 L303.77,270.72 L305.43,270.64 L307.08,270.56 L308.74,270.48 L310.40,270.40 L312.06,270.32 L313.72,270.24 L315.38,270.16 L317.04,270.07 L318.70,269.99 L320.36,269.91 L322.02,269.82 L323.68,269.74 L325.34,269.65 L326.99,269.56 L328.65,269.47 L330.31,269.37 L331.97,269.28 L333.63,269.18 L335.29,269.08 L336.95,268.98 L338.61,268.87 L340.27,268.76 L341.93,268.65 L343.59,268.53 L345.25,268.42 L346.91,268.30 L348.56,268.17 L350.22,268.04 L351.88,267.91 L353.54,267.78 L355.20,267.64 L356.86,267.50 L358.52,267.36 L360.18,267.21 L361.84,267.07 L363.50,266.92 L365.16,266.76 L366.82,266.61 L368.47,266.45 L370.13,266.29 L371.79,266.12 L373.45,265.95 L375.11,265.78 L376.77,265.61 L378.43,265.44 L380.09,265.26 L381.75,265.07 L383.41,264.89 L385.07,264.70 L386.73,264.51 L388.38,264.31 L390.04,264.11 L391.70,263.91 L393.36,263.71 L395.02,263.50 L396.68,263.28 L398.34,263.06 L400.00,262.84 L401.66,262.61 L403.32,262.37 L404.98,262.13 L406.64,261.88 L408.29,261.62 L409.95,261.37 L411.61,261.10 L413.27,260.84 L414.93,260.58 L416.59,260.31 L418.25,260.05 L419.91,259.78 L421.57,259.51 L423.23,259.24 L424.89,258.96 L426.55,258.68 L428.21,258.40 L429.86,258.11 L431.52,257.82 L433.18,257.52 L434.84,257.22 L436.50,256.91 L438.16,256.60 L439.82,256.28 L441.48,255.96 L443.14,255.63 L444.80,255.29 L446.46,254.95 L448.12,254.61 L449.77,254.26 L451.43,253.90 L453.09,253.53 L454.75,253.16 L456.41,252.78 L458.07,252.40 L459.73,252.01 L461.39,251.61 L463.05,251.21 L464.71,250.81 L466.37,250.41 L468.03,250.00 L469.68,249.58 L471.34,249.17 L473.00,248.74 L474.66,248.32 L476.32,247.89 L477.98,247.45 L479.64,247.02 L481.30,246.57 L482.96,246.12 L484.62,245.67 L486.28,245.21 L487.94,244.74 L489.60,244.26 L491.25,243.78 L492.91,243.29 L494.57,242.78 L496.23,242.27 L497.89,241.75 L499.55,241.21 L501.21,240.66 L502.87,240.10 L504.53,239.53 L506.19,238.94 L507.85,238.33 L509.51,237.72 L511.16,237.09 L512.82,236.44 L514.48,235.78 L516.14,235.11 L517.80,234.43 L519.46,233.74 L521.12,233.05 L522.78,232.35 L524.44,231.64 L526.10,230.92 L527.76,230.21 L529.42,229.48 L531.07,228.75 L532.73,228.02 L534.39,227.28 L536.05,226.53 L537.71,225.77 L539.37,225.01 L541.03,224.25 L542.69,223.48 L544.35,222.70 L546.01,221.93 L547.67,221.15 L549.33,220.37 L550.99,219.58 L552.64,218.78 L554.30,217.97 L555.96,217.14 L557.62,216.29 L559.28,215.42 L560.94,214.54 L562.60,213.63 L564.26,212.70 L565.92,211.76 L567.58,210.80 L569.24,209.83 L570.90,208.85 L572.55,207.85 L574.21,206.84 L575.87,205.81 L577.53,204.77 L579.19,203.72 L580.85,202.66 L582.51,201.58 L584.17,200.49 L585.83,199.38 L587.49,198.26 L589.15,197.13 L590.81,195.98 L592.46,194.82 L594.12,193.64 L595.78,192.46 L597.44,191.26 L599.10,190.04 L600.76,188.81 L602.42,187.57 L604.08,186.32 L605.74,185.05 L607.40,183.77 L609.06,182.48 L610.72,181.17 L612.38,179.85 L614.03,178.52 L615.69,177.17 L617.35,175.82 L619.01,174.44 L620.67,173.06 L622.33,171.66 L623.99,170.24 L625.65,168.81 L627.31,167.36 L628.97,165.90 L630.63,164.43 L632.29,162.93 L633.94,161.42 L635.60,159.90 L637.26,158.35 L638.92,156.79 L640.58,155.21 L642.24,153.62 L643.90,152.01 L645.56,150.38 L647.22,148.74 L648.88,147.08 L650.54,145.40 L652.20,143.71 L653.85,142.01 L655.51,140.29 L657.17,138.55 L658.83,136.81 L660.49,135.04 L662.15,133.27 L663.81,131.48 L665.47,129.68 L667.13,127.86 L668.79,126.02 L670.45,124.18 L672.11,122.32 L673.77,120.44 L675.42,118.55 L677.08,116.65 L678.74,114.73 L680.40,112.80 L682.06,110.85 L683.72,108.88 L685.38,106.90 L687.04,104.91 L688.70,102.90 L690.36,100.87 L692.02,98.84 L693.68,96.79 L695.33,94.73 L696.99,92.66 L698.65,90.58 L700.31,88.50 L701.97,86.41 L703.63,84.31 L705.29,82.22 L706.95,80.11 L708.61,78.01 L710.27,75.90 L711.93,73.78 L713.59,71.66 L715.24,69.53 L716.90,67.40 L718.56,65.25 L720.22,63.10 L721.88,60.94 L723.54,58.77 L725.20,56.59" fill="none" stroke="#70AD47" stroke-width="1.6" stroke-linejoin="round" stroke-linecap="butt"/>
<rect x="303.5" y="37.4" width="172" height="108.9" fill="#fff" stroke="#858585" stroke-width="1.1"/>
<line x1="313.8" y1="48.80" x2="333.2" y2="48.80" stroke="#5B9BD5" stroke-width="1.6"/>
<text x="339.1" y="53.10" class="t">water</text>
<line x1="313.8" y1="70.50" x2="333.2" y2="70.50" stroke="#ED7D31" stroke-width="1.6"/>
<text x="339.1" y="74.00" class="t">0.154M</text>
<line x1="313.8" y1="92.20" x2="333.2" y2="92.20" stroke="#A5A5A5" stroke-width="1.6"/>
<text x="339.1" y="95.70" class="t">0.25M</text>
<line x1="313.8" y1="113.90" x2="333.2" y2="113.90" stroke="#FFC000" stroke-width="1.6"/>
<text x="339.1" y="115.60" class="t">0.5M</text>
<line x1="313.8" y1="135.60" x2="333.2" y2="135.60" stroke="#70AD47" stroke-width="1.6"/>
<text x="339.1" y="136.70" class="t">1M</text>
<text x="18.6" y="348.20" class="ty" text-anchor="end">0</text>
<text x="18.6" y="309.78" class="ty" text-anchor="end">5</text>
<text x="18.6" y="271.37" class="ty" text-anchor="end">10</text>
<text x="18.6" y="232.95" class="ty" text-anchor="end">15</text>
<text x="18.6" y="194.54" class="ty" text-anchor="end">20</text>
<text x="18.6" y="156.12" class="ty" text-anchor="end">25</text>
<text x="18.6" y="117.71" class="ty" text-anchor="end">30</text>
<text x="18.6" y="79.30" class="ty" text-anchor="end">35</text>
<text x="18.6" y="40.88" class="ty" text-anchor="end">40</text>
<text x="30.26" y="364" class="t" text-anchor="middle">0.5</text>
<text x="164.50" y="364" class="t" text-anchor="middle">1</text>
<text x="300.59" y="364" class="t" text-anchor="middle">2</text>
<text x="378.48" y="364" class="t" text-anchor="middle">3</text>
<text x="436.08" y="364" class="t" text-anchor="middle">4</text>
<text x="476.76" y="364" class="t" text-anchor="middle">5</text>
<text x="611.60" y="364" class="t" text-anchor="middle">10</text>
<text x="690.14" y="364" class="t" text-anchor="middle">15</text>
<text x="723.60" y="364" class="t" text-anchor="middle">18</text>
<text x="14.6" y="17.4" class="ti" font-style="italic" style="font-size:15.3px">σ</text>
<text x="27.5" y="17.4" class="ti" textLength="38.9" lengthAdjust="spacingAndGlyphs">(S/m)</text>
<path transform="translate(0.6,0)" d="M355.1,383.4 C356.6,384.0 357.7,383.2 358.2,381.6 L360.5,374.4 C361.1,372.6 362.2,371.8 363.6,372.3" fill="none" stroke="#111" stroke-width="1.05" stroke-linecap="round"/>
<path transform="translate(0.6,0)" d="M358.5,375.5 L361.9,375.4" fill="none" stroke="#111" stroke-width="0.9"/>
<text x="365.2" y="381.4" class="tx" textLength="33.9" lengthAdjust="spacingAndGlyphs">(GHz)</text>
</svg>
</body></html>
